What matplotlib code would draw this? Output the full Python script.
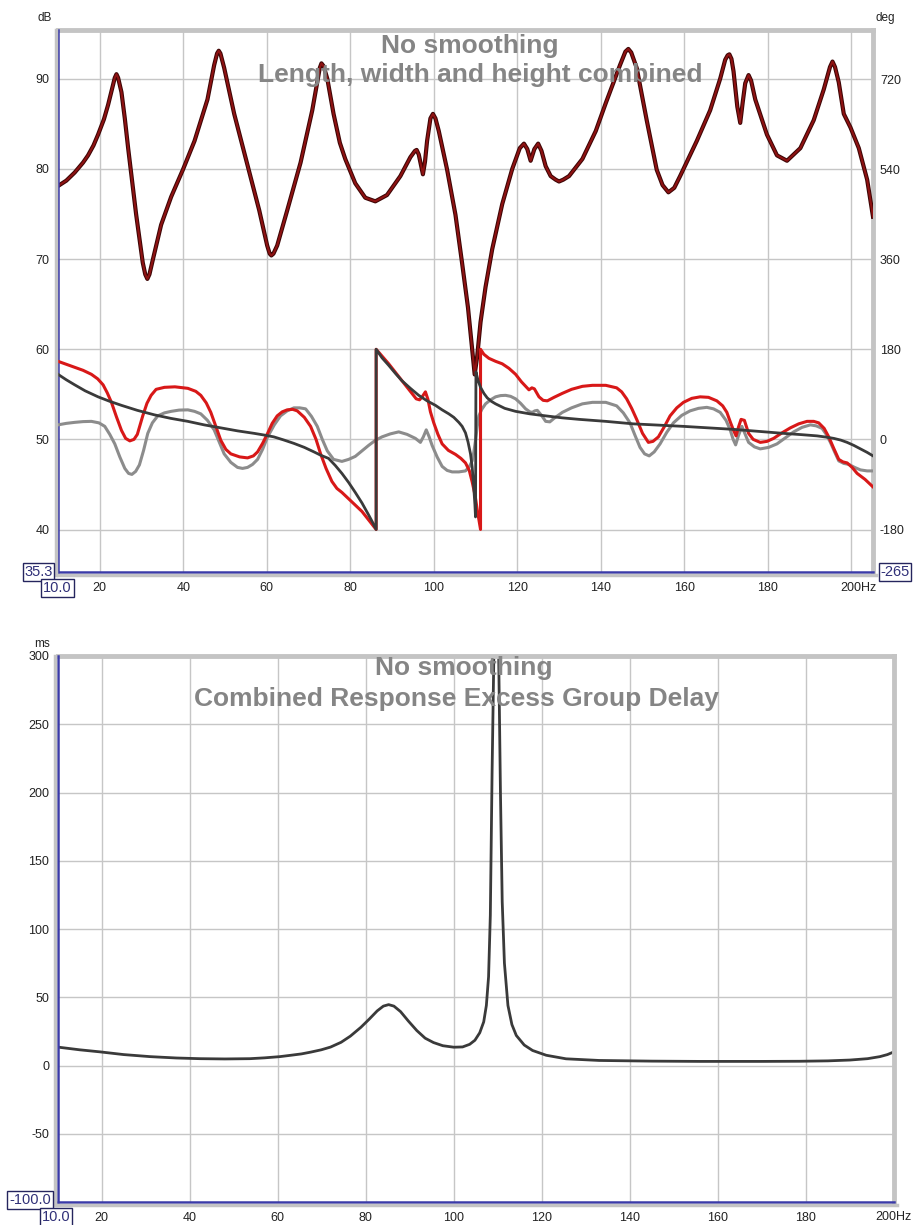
import matplotlib
matplotlib.use("Agg")
import matplotlib.pyplot as plt
from matplotlib.lines import Line2D

plt.rcParams['font.family'] = ['Liberation Sans', 'DejaVu Sans']
plt.rcParams['axes.unicode_minus'] = False

# ---------------- data: top panel ----------------
mag_f = [10.0, 12.0, 14.0, 16.0, 17.2, 18.5, 19.6, 21.0, 22.0, 23.0, 23.6, 24.0, 24.4, 25.2,
         26.0, 26.8, 28.7, 30.3, 30.9, 31.4, 31.9, 32.7, 34.7, 37.1, 40.0, 42.7, 45.8, 47.4,
         48.1, 48.5, 48.9, 49.8, 52.2, 55.4, 58.2, 60.1, 60.7, 61.1, 61.6, 62.5, 64.9, 68.1,
         70.9, 72.1, 72.7, 73.1, 73.6, 74.5, 76.0, 77.5, 78.8, 81.2, 83.6, 86.0, 88.8, 92.0,
         94.4, 95.5, 95.9, 96.4, 96.8, 97.4, 97.9, 98.4, 99.2, 99.8, 100.4, 101.2, 103.2,
         105.2, 106.8, 108.2, 109.2, 109.8, 110.4, 111.2, 112.4, 114.0, 116.4, 118.8, 120.6,
         121.6, 122.4, 123.2, 124.1, 125.0, 125.8, 126.8, 128.0, 129.2, 130.0, 131.0, 132.4,
         135.6, 138.8, 141.2, 144.6, 145.9, 146.6, 147.3, 148.6, 151.0, 153.4, 154.8, 156.2,
         157.6, 159.0, 163.0, 166.2, 168.6, 169.8, 170.4, 170.8, 171.3, 171.8, 172.7, 173.4,
         174.0, 174.6, 175.4, 176.0, 177.0, 179.8, 182.2, 184.6, 187.8, 191.0, 193.4, 194.9,
         195.5, 196.1, 197.0, 198.2, 199.8, 201.8, 203.8, 205.2]
mag_db = [78.1, 78.7, 79.6, 80.7, 81.5, 82.6, 83.8, 85.5, 87.1, 89.0, 90.1, 90.5, 90.1, 88.5,
          85.6, 82.3, 75.0, 69.6, 68.3, 67.8, 68.3, 69.9, 73.8, 76.9, 80.0, 83.1, 87.7, 91.5,
          92.8, 93.1, 92.8, 91.2, 86.1, 80.4, 75.4, 71.5, 70.6, 70.4, 70.6, 71.5, 75.4, 80.7,
          86.5, 89.6, 91.2, 91.7, 91.4, 90.0, 86.1, 82.9, 81.1, 78.4, 76.8, 76.4, 77.1, 79.2,
          81.3, 82.0, 82.1, 81.6, 80.7, 79.4, 80.8, 83.1, 85.6, 86.1, 85.6, 84.2, 79.9,
          74.9, 69.5, 64.6, 59.9, 57.2, 59.2, 63.0, 66.9, 71.1, 76.1, 80.0, 82.3,
          82.8, 82.2, 80.9, 82.2, 82.8, 82.0, 80.3, 79.2, 78.8, 78.6, 78.8, 79.2,
          81.1, 84.2, 87.3, 91.5, 93.0, 93.3, 92.9, 91.2, 85.4, 79.9, 78.2, 77.4,
          77.9, 79.2, 83.1, 86.5, 90.0, 92.1, 92.6, 92.7, 92.2, 90.8, 86.9, 85.1,
          87.4, 89.5, 90.4, 89.8, 87.7, 83.8, 81.5, 80.9, 82.3, 85.4, 88.8, 91.3,
          91.9, 91.3, 89.6, 86.1, 84.6, 82.3, 78.8, 74.7]

red_f = [10.0, 12.0, 14.0, 16.0, 18.0, 19.5, 20.8, 21.8, 22.8, 24.0, 25.2, 26.2, 27.2, 28.2,
         29.0, 30.3, 31.3, 32.3, 33.5, 35.5, 38.0, 41.1, 43.0, 44.2, 45.5, 46.6, 47.8, 49.0,
         50.2, 51.4, 53.5, 55.4, 56.8, 57.8, 59.0, 60.2, 61.3, 62.5, 63.7, 64.9, 66.2, 67.3,
         69.0, 70.5, 71.8, 72.9, 74.2, 75.6, 76.8, 78.0, 80.4, 82.8, 84.5, 86.2,
         86.2, 89.2, 92.4, 94.0, 95.8, 96.6, 97.3, 98.0, 98.6, 99.2, 100.0, 101.0, 102.0,
         103.5, 105.2, 106.5, 107.6, 108.5, 109.2, 109.9, 110.4, 110.9, 111.2,
         111.2, 112.0, 113.2, 114.8, 116.4, 118.0, 119.6, 121.0, 122.0, 122.8, 123.5, 124.1,
         125.2, 126.2, 127.2, 128.8, 130.8, 133.0, 135.6, 138.0, 141.2, 143.8, 145.0, 146.2,
         147.4, 148.6, 150.0, 151.4, 152.5, 153.8, 155.2, 156.6, 158.2, 159.8, 161.8, 163.8,
         165.8, 167.8, 169.2, 170.2, 171.1, 171.8, 172.4, 173.0, 173.6, 174.4, 175.0, 175.4,
         176.5, 178.2, 179.8, 181.4, 183.4, 185.4, 187.4, 189.4, 191.0, 192.2, 193.5, 194.6,
         195.8, 197.0, 198.0, 199.0, 200.2, 201.4, 203.3, 205.2]
red_deg = [156, 150, 144, 138, 130, 121, 109, 93, 74, 45, 18, 2, -3, 0,
           10, 47, 72, 88, 100, 104, 105, 102, 96, 88, 73, 54, 26, -2,
           -20, -29, -35, -37, -33, -25, -8, 12, 32, 47, 55, 59, 60, 57,
           44, 26, 0, -29, -58, -84, -98, -106, -125, -144, -162, -180,
           180, 151, 117, 100, 81, 79, 86, 95, 80, 55, 33, 10, -9,
           -22, -30, -38, -47, -62, -85, -112, -140, -165, -180,
           180, 170, 162, 156, 151, 142, 130, 115, 106, 99, 103, 101,
           85, 78, 77, 84, 92, 100, 106, 108, 108, 103, 95, 81,
           62, 40, 12, -6, -4, 5, 25, 47, 63, 74, 82, 85,
           84, 77, 67, 54, 33, 18, 7, 25, 40, 38, 22, 12,
           0, -6, -4, 2, 13, 23, 31, 36, 36, 33, 22, 5,
           -18, -40, -45, -47, -56, -68, -80, -95]

gray_f = [10.0, 12.0, 14.0, 16.0, 18.0, 19.8, 21.2, 22.4, 23.6, 24.8, 26.0, 26.9, 27.7, 28.6,
          29.5, 30.5, 31.5, 32.6, 33.9, 35.5, 37.1, 39.0, 41.1, 42.7, 44.2, 45.8, 47.4, 48.6,
          49.8, 51.4, 53.0, 54.2, 55.4, 56.6, 57.8, 59.0, 60.2, 61.8, 63.3, 64.9, 66.5, 67.9,
          69.3, 70.7, 72.1, 73.3, 74.5, 76.0, 78.0, 79.6, 81.2, 82.8, 84.4, 86.0, 87.6, 89.6,
          91.6, 93.6, 95.6, 96.8, 97.5, 98.2, 98.9, 99.6, 100.8, 102.0, 103.2, 104.4, 106.0,
          107.6, 108.5, 109.2, 109.6, 110.0, 110.4, 110.8, 111.5, 112.4, 113.6, 114.8, 116.0,
          117.2, 118.4, 119.6, 120.8, 122.0, 123.0, 123.6, 124.2, 124.8, 125.8, 126.8, 127.8,
          128.8, 130.8, 133.0, 135.6, 138.0, 141.2, 143.8, 145.4, 147.0, 148.2, 149.4, 150.5,
          151.6, 152.8, 154.2, 155.8, 157.4, 159.4, 161.4, 163.4, 165.4, 167.0, 168.6, 170.0,
          171.0, 171.7, 172.3, 173.0, 173.8, 174.6, 175.4, 176.8, 178.2, 180.2, 182.2, 184.2,
          186.2, 188.2, 190.2, 191.6, 193.0, 194.0, 195.0, 196.0, 197.0, 198.2, 199.4, 200.8,
          202.2, 203.8, 205.2]
gray_deg = [29, 32, 34, 35.5, 36, 33, 26, 10, -9, -35, -58, -68, -70, -64,
            -51, -22, 12, 33, 47, 53, 56, 58.5, 59, 56, 51, 38, 19, -5,
            -29, -46, -56, -58, -56, -50, -40, -20, 5, 29, 47, 57, 63, 63,
            61, 46, 26, 0, -23, -40, -44, -40, -34, -23, -12, -2, 5, 11,
            15, 10, 2, -6, 5, 19, 5, -12, -35, -54, -62, -65, -65,
            -63, -55, -43, -25, -2, 25, 47, 60, 71, 79, 85, 87.5,
            88, 86, 81, 72, 61, 55, 54, 57, 58, 48, 36, 35,
            42, 54, 63, 71, 74, 74, 67, 53, 33, 8, -16, -29,
            -33, -25, -9, 14, 33, 48, 57, 62, 64, 61, 54, 38,
            19, 0, -11, 8, 26, 10, -6, -15, -19, -16, -9, 3,
            15, 24, 29, 27, 22, 10, -6, -25, -43, -48, -50, -56,
            -61, -63, -63]

blk_f = [10.0, 12.0, 14.0, 16.5, 19.6, 22.4, 25.2, 29.0, 33.1, 37.0, 41.1, 45.0, 49.0, 53.0,
         57.0, 59.5, 61.7, 64.0, 66.5, 69.0, 71.3, 73.0, 74.8, 76.4, 78.0, 79.6, 81.2, 82.8,
         84.4, 85.3, 86.2, 86.2, 87.6, 89.2, 90.8, 92.4, 94.4, 96.4, 98.4, 100.4, 102.0,
         103.6, 104.8, 106.0, 106.8, 107.6, 108.2, 108.8, 109.2, 109.6, 109.85, 110.0,
         110.1, 110.6, 111.2, 112.0, 112.8, 113.8, 114.8, 117.0, 119.6, 123.0, 126.8, 130.8,
         134.8, 141.2, 147.8, 153.8, 159.8, 165.8, 171.8, 177.8, 183.8, 188.0, 191.8, 194.0,
         195.8, 197.5, 199.0, 200.6, 202.2, 203.8, 205.2]
blk_deg = [130, 119, 109, 97, 85, 76, 68, 58, 49, 42, 36, 29, 23, 17,
           12, 8.5, 5, -1, -8, -16, -25, -32, -38, -52, -68, -86, -106, -127,
           -151, -165, -180, 180, 163, 148, 132, 117, 102, 88, 77, 68, 59,
           51, 44, 34, 26, 13, -5, -29, -55, -99, -130, -155,
           135, 118, 104, 92, 83, 76, 71, 62, 56, 51, 47, 43,
           40, 36, 31, 28.5, 26, 23, 20, 16, 12, 9.5, 7, 4.5,
           2, -1.5, -6, -12, -19, -26, -33]

top_xticks = [20, 40, 60, 80, 100, 120, 140, 160, 180, 200]
top_xlabels = ['20', '40', '60', '80', '100', '120', '140', '160', '180', '']
db_ticks = [40, 50, 60, 70, 80, 90]
deg_ticks = [-180, 0, 180, 360, 540, 720]

# ---------------- data: bottom panel ----------------
gd_f = [10.0, 15.0, 19.6, 25.0, 31.0, 37.0, 42.3, 48.0, 53.7, 57.0, 60.5, 63.0, 65.4, 67.5,
        69.9, 72.0, 74.4, 76.5, 78.9, 80.8, 82.6, 84.0, 85.2, 86.4, 87.9, 89.7, 91.6, 93.5,
        95.4, 97.5, 100.0, 102.0, 103.6, 104.8, 105.9, 106.8, 107.4, 107.9, 108.3, 108.7,
        109.1, 109.65, 110.2, 110.6, 111.0, 111.5, 112.3, 113.2, 114.2, 116.0, 117.9, 121.0,
        125.5, 133.0, 145.0, 155.8, 170.0, 178.5, 185.0, 190.0, 194.0, 196.8, 198.5, 200.0]
gd_ms = [13.5, 11.5, 10, 8, 6.5, 5.5, 5, 4.8, 5, 5.6, 6.5, 7.5, 8.5, 9.8,
         11.5, 13.5, 17, 21.5, 28, 34, 40, 43.5, 44.6, 43.5, 39.5, 32.5, 25.6, 20,
         16.8, 14.5, 13.4, 13.6, 15.5, 18.5, 24, 32, 44, 65, 110, 215,
         300, 650, 300, 200, 120, 75, 44, 30, 22, 15, 11, 7.5,
         4.9, 3.7, 3.2, 3, 3, 3.1, 3.4, 4, 5, 6.5, 8, 10]
ms_ticks = [-50, 0, 50, 100, 150, 200, 250, 300]
bot_xticks = [20, 40, 60, 80, 100, 120, 140, 160, 180]

# ---------------- styling ----------------
W, H = 914, 1225
BLUE = '#3a3aa8'
SHADOW = '#c4c4c4'
GRID = '#c6c6c6'
TITLE = '#858585'
TXT = '#222222'

fig = plt.figure(figsize=(W / 100, H / 100), dpi=100)


def fx(px):
    return px / W


def fy(py):
    return 1 - py / H


def style_axes(ax):
    ax.set_facecolor('white')
    ax.grid(True, color=GRID, lw=1.0)
    ax.set_axisbelow(True)
    for s in ['top', 'right']:
        ax.spines[s].set_color(SHADOW)
        ax.spines[s].set_linewidth(3.5)
    for s in ['left', 'bottom']:
        ax.spines[s].set_color(BLUE)
        ax.spines[s].set_linewidth(1.8)
        ax.spines[s].set_zorder(5)
    ax.tick_params(length=0, labelsize=9, colors=TXT)


# ---- top panel ----
L, R, T, B = 58, 873, 30, 572
ax = fig.add_axes([fx(L), fy(B), fx(R - L), (B - T) / H])
style_axes(ax)
ax.set_xlim(10, 205.2)
ax.set_ylim(35.3, 95.4)
ax.set_xticks(top_xticks)
ax.set_xticklabels(top_xlabels)
ax.set_yticks(db_ticks)
ax.tick_params(axis='y', pad=6)
ax.tick_params(axis='x', pad=7)

ax2 = ax.twinx()
ax2.set_ylim(-265, 818)
ax2.set_yticks(deg_ticks)
ax2.tick_params(length=0, labelsize=9, colors=TXT, pad=5)
for s in ax2.spines.values():
    s.set_visible(False)

ax.plot(mag_f, mag_db, color='#3c0505', lw=3.0, solid_joinstyle='round', zorder=3)
ax.plot(mag_f, mag_db, color='#8e1212', lw=1.5, solid_joinstyle='round', zorder=3)
ax2.plot(gray_f, gray_deg, color='#8c8c8c', lw=2.2, solid_joinstyle='round')
ax2.plot(red_f, red_deg, color='#d81818', lw=2.2, solid_joinstyle='round')
ax2.plot(blk_f, blk_deg, color='#3a3a3a', lw=2.0, solid_joinstyle='round')

fig.text(fx(470), fy(46), 'No smoothing', ha='center', va='center',
         fontsize=19, fontweight='bold', color=TITLE)
fig.text(fx(480), fy(75), 'Length, width and height combined', ha='center', va='center',
         fontsize=19, fontweight='bold', color=TITLE)

fig.text(fx(45), fy(18), 'dB', ha='center', va='center', fontsize=8.5, color=TXT)
fig.text(fx(885), fy(18), 'deg', ha='center', va='center', fontsize=8.5, color=TXT)
fig.text(fx(840), fy(588), '200Hz', ha='left', va='center', fontsize=9, color=TXT)

box = dict(boxstyle='square,pad=0.12', fc='white', ec='#25255e', lw=1.0)
fig.text(fx(38.5), fy(572), '35.3', ha='center', va='center', fontsize=10.5,
         color='#303078', bbox=box, zorder=10)
fig.text(fx(57.5), fy(588), '10.0', ha='center', va='center', fontsize=10.5,
         color='#303078', bbox=box, zorder=10)
fig.text(fx(895), fy(572), '-265', ha='center', va='center', fontsize=10.5,
         color='#303078', bbox=box, zorder=10)

fig.add_artist(Line2D([fx(55.5), fx(55.5)], [fy(T), fy(B + 3)], color=SHADOW, lw=2.5))
fig.add_artist(Line2D([fx(L), fx(R + 3)], [fy(B + 2.5), fy(B + 2.5)], color=SHADOW, lw=2.5))

# ---- bottom panel ----
L2, R2, T2, B2 = 57.6, 894, 656, 1202
bx = fig.add_axes([fx(L2), fy(B2), fx(R2 - L2), (B2 - T2) / H])
style_axes(bx)
bx.set_xlim(10, 200)
bx.set_ylim(-100, 300)
bx.set_xticks(bot_xticks)
bx.set_yticks(ms_ticks)
bx.tick_params(axis='y', pad=6)
bx.tick_params(axis='x', pad=7)
bx.plot(gd_f, gd_ms, color='#3a3a3a', lw=2.0, solid_joinstyle='round')

fig.text(fx(463.5), fy(668), 'No smoothing', ha='center', va='center',
         fontsize=19, fontweight='bold', color=TITLE)
fig.text(fx(456), fy(699), 'Combined Response Excess Group Delay', ha='center', va='center',
         fontsize=19, fontweight='bold', color=TITLE)

fig.text(fx(42.5), fy(644), 'ms', ha='center', va='center', fontsize=8.5, color=TXT)
fig.text(fx(912), fy(1217), '200Hz', ha='right', va='center', fontsize=9, color=TXT)
fig.text(fx(30), fy(1200), '-100.0', ha='center', va='center', fontsize=10.5,
         color='#303078', bbox=box, zorder=10)
fig.text(fx(56), fy(1217), '10.0', ha='center', va='center', fontsize=10.5,
         color='#303078', bbox=box, zorder=10)

fig.add_artist(Line2D([fx(55), fx(55)], [fy(T2), fy(B2 + 3)], color=SHADOW, lw=2.5))
fig.add_artist(Line2D([fx(L2), fx(R2 + 3)], [fy(B2 + 2.5), fy(B2 + 2.5)], color=SHADOW, lw=2.5))

fig.savefig('out.png', dpi=100, facecolor='white')
